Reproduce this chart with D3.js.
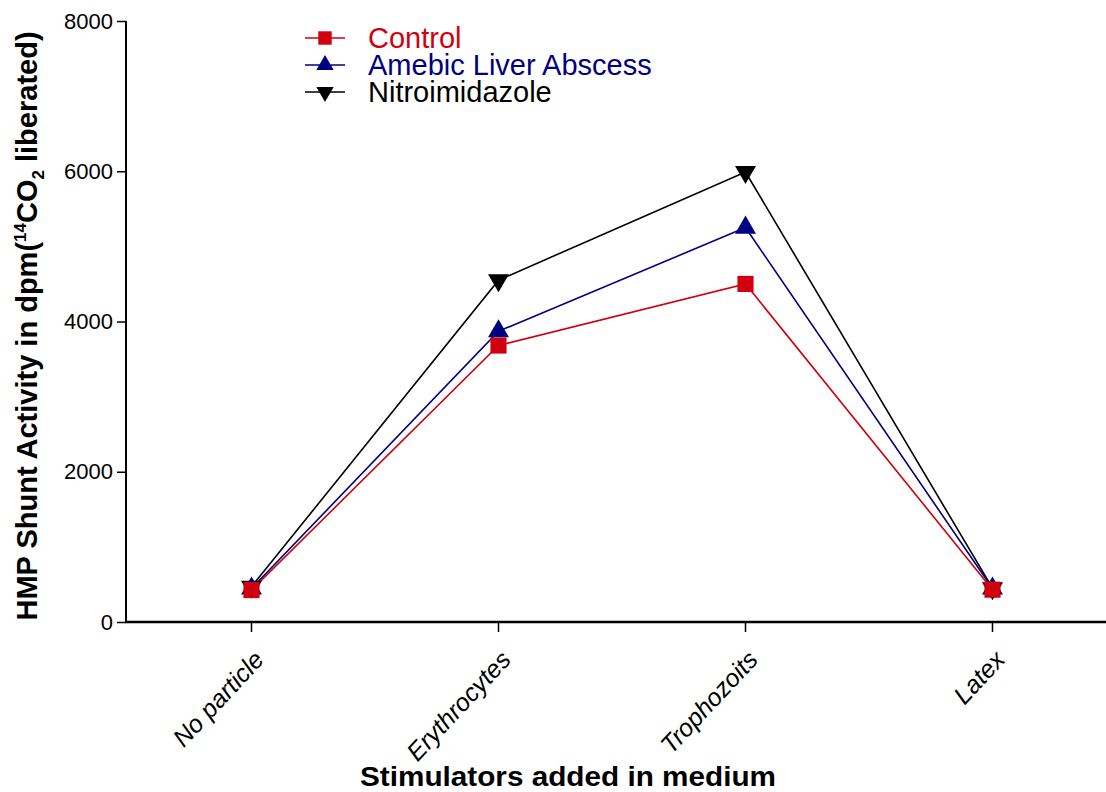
<!DOCTYPE html>
<html>
<head>
<meta charset="utf-8">
<script src="https://cdn.jsdelivr.net/npm/d3@7"></script>
<style>
  body { margin: 0; background: #fff; }
  svg { font-family: Arial, "Liberation Sans", sans-serif; }
</style>
</head>
<body>
<div id="chart"></div>
<script>
// data
var categories = ["No particle", "Erythrocytes", "Trophozoits", "Latex"];
var control = [425, 3680, 4500, 430];
var amebic = [445, 3870, 5250, 445];
var nitro = [470, 4550, 5990, 450];
var yTicks = [0, 2000, 4000, 6000, 8000];

var series = [
  { name: "Control", values: control, color: "#d0000f", symbol: d3.symbolSquare, rot: 0 },
  { name: "Amebic Liver Abscess", values: amebic, color: "#000080", symbol: d3.symbolTriangle, rot: 0 },
  { name: "Nitroimidazole", values: nitro, color: "#000000", symbol: d3.symbolTriangle, rot: 180 }
];

var svgWidth = 1106, svgHeight = 792;
var svg = d3.select("#chart").append("svg")
  .attr("width", svgWidth)
  .attr("height", svgHeight);

var x = d3.scaleBand()
  .domain(categories)
  .range([128, 1116]);

var y = d3.scaleLinear()
  .domain([0, 8000])
  .range([622, 21]);

// y axis
var yAxis = svg.append("g")
  .attr("transform", "translate(126,0)")
  .call(d3.axisLeft(y).tickValues(yTicks).tickSize(9).tickPadding(4).tickFormat(d3.format("d")));
yAxis.select(".domain").attr("stroke-width", 2).attr("d", "M0,621V21");
yAxis.selectAll(".tick line").attr("stroke-width", 1.5);
yAxis.selectAll("text").attr("font-size", 22).attr("fill", "#000").attr("font-family", "Arial, 'Liberation Sans', sans-serif");

// x axis
var xAxis = svg.append("g")
  .attr("transform", "translate(0,622)")
  .call(d3.axisBottom(x).tickSize(10).tickPadding(8));
xAxis.select(".domain").attr("stroke-width", 2.5).attr("d", "M125,0H1106");
xAxis.selectAll(".tick line").attr("stroke-width", 1.5);
xAxis.selectAll("text")
  .attr("font-size", 25)
  .attr("font-style", "italic")
  .attr("fill", "#000")
  .attr("font-family", "Arial, 'Liberation Sans', sans-serif")
  .attr("text-anchor", "end")
  .attr("y", 0)
  .attr("dy", "0.7em")
  .attr("transform", "translate(1,27) rotate(-47)");

// lines
var line = d3.line()
  .x(function(d, i) { return x(categories[i]) + x.bandwidth() / 2; })
  .y(function(d) { return y(d); });

series.slice().reverse().forEach(function(s) {
  svg.append("path")
    .datum(s.values)
    .attr("fill", "none")
    .attr("stroke", s.color)
    .attr("stroke-width", 1.6)
    .attr("d", line);
});

// markers
series.slice().reverse().forEach(function(s) {
  var size = s.symbol === d3.symbolSquare ? 260 : 190;
  svg.selectAll(null)
    .data(s.values)
    .enter()
    .append("path")
    .attr("d", d3.symbol().type(s.symbol).size(size))
    .attr("fill", s.color)
    .attr("transform", function(d, i) {
      return "translate(" + (x(categories[i]) + x.bandwidth() / 2) + "," + y(d) + ") rotate(" + s.rot + ")";
    });
});

// legend
var legend = svg.append("g").attr("transform", "translate(305,38)");
series.forEach(function(s, i) {
  var g = legend.append("g").attr("transform", "translate(0," + (i * 27) + ")");
  g.append("line").attr("x1", 0).attr("x2", 40).attr("stroke", s.color).attr("stroke-width", 1.6);
  g.append("path")
    .attr("d", d3.symbol().type(s.symbol).size(s.symbol === d3.symbolSquare ? 180 : 130))
    .attr("fill", s.color)
    .attr("transform", "translate(20,0) rotate(" + s.rot + ")");
  g.append("text")
    .attr("x", 63)
    .attr("dy", "0.36em")
    .attr("font-size", 29)
    .attr("fill", s.color)
    .text(s.name);
});

// y axis label
var yLabel = svg.append("text")
  .attr("transform", "translate(37,326) rotate(-90)")
  .attr("text-anchor", "middle")
  .attr("font-size", 29)
  .attr("font-weight", "bold")
  .attr("fill", "#000");
yLabel.append("tspan").text("HMP Shunt Activity in dpm(");
yLabel.append("tspan").attr("font-size", 17).attr("dy", -11).text("14");
yLabel.append("tspan").attr("dy", 11).text("CO");
yLabel.append("tspan").attr("font-size", 17).attr("dy", 7).text("2");
yLabel.append("tspan").attr("dy", -7).text(" liberated)");

// x axis label
svg.append("text")
  .attr("x", 360)
  .attr("y", 786)
  .attr("textLength", 416)
  .attr("lengthAdjust", "spacingAndGlyphs")
  .attr("font-size", 27)
  .attr("font-weight", "bold")
  .attr("fill", "#000")
  .text("Stimulators added in medium");
</script>
</body>
</html>
